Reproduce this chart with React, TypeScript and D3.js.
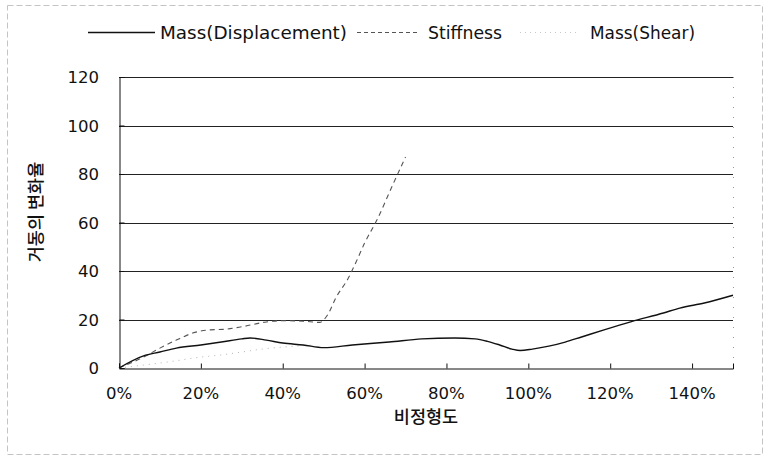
import { useEffect, useRef } from "react";
import * as d3 from "d3";

// values (x = irregularity ratio, y = change rate %)
const dispX = [0, 0.06, 0.1, 0.14, 0.2, 0.25, 0.3, 0.32, 0.36, 0.4, 0.45, 0.5, 0.57, 0.66, 0.74, 0.82, 0.87, 0.9, 0.93, 0.96, 0.98, 1.01, 1.05, 1.09, 1.13, 1.185, 1.25, 1.33, 1.37, 1.43, 1.5];
const dispY = [0, 5, 6.6, 8.2, 9.5, 10.7, 12, 12.4, 11.5, 10.3, 9.5, 8.4, 9.5, 10.7, 12, 12.4, 12, 11, 9.5, 7.8, 7.2, 7.8, 9, 10.7, 12.8, 15.7, 19, 22.7, 24.7, 26.8, 30];

const stiffX = [0, 0.06, 0.1, 0.14, 0.18, 0.22, 0.26, 0.3, 0.36, 0.4, 0.45, 0.49, 0.51, 0.53, 0.56, 0.58, 0.6, 0.63, 0.67, 0.7];
const stiffY = [0, 4.5, 8.2, 11.5, 14.4, 15.7, 16, 17, 19, 19.5, 19.3, 18.8, 22, 29, 37, 44, 51.5, 61, 76, 87];

const shearX = [0, 0.06, 0.12, 0.2, 0.25, 0.3, 0.35, 0.43, 0.47];
const shearY = [0, 1.2, 2.5, 4.5, 5.4, 6.6, 7.8, 9, 9.4];

const xTicks = [0, 0.2, 0.4, 0.6, 0.8, 1.0, 1.2, 1.4];
const yTicks = [0, 20, 40, 60, 80, 100, 120];

const legendItems = [
  { label: "Mass(Displacement)", stroke: "#111", dash: "none", width: 1.4, x0: 88, x1: 155, tx: 160, tl: 187 },
  { label: "Stiffness", stroke: "#555", dash: "4,3", width: 1.1, x0: 357, x1: 420, tx: 428, tl: 74 },
  { label: "Mass(Shear)", stroke: "#c8c8c8", dash: "1,4", width: 1, x0: 520, x1: 580, tx: 590, tl: 105 },
];

const W = 767;
const H = 459;
const font = "'DejaVu Sans', sans-serif";

export default function App() {
  const svgRef = useRef<SVGSVGElement>(null);

  useEffect(() => {
    if (!svgRef.current) return;
    const svg = d3.select(svgRef.current);
    svg.selectAll("*").remove();

    const plot = { left: 119, right: 733, top: 77, bottom: 368 };

    const x = d3.scaleLinear().domain([0, 1.5]).range([plot.left, plot.right]);
    const y = d3.scaleLinear().domain([0, 120]).range([plot.bottom, plot.top]);

    svg.append("rect").attr("width", W).attr("height", H).attr("fill", "#fff");

    // outer chart border (faint, like the scan)
    svg
      .append("rect")
      .attr("x", 7.5)
      .attr("y", 5.5)
      .attr("width", W - 12)
      .attr("height", H - 10)
      .attr("fill", "none")
      .attr("stroke", "#c4c4c4")
      .attr("stroke-dasharray", "6,3")
      .attr("stroke-width", 1);

    // gridlines
    svg
      .append("g")
      .selectAll("line")
      .data(yTicks.filter(d => d > 0))
      .enter()
      .append("line")
      .attr("x1", plot.left)
      .attr("x2", plot.right)
      .attr("y1", d => Math.round(y(d)) + 0.5)
      .attr("y2", d => Math.round(y(d)) + 0.5)
      .attr("stroke", "#222")
      .attr("stroke-width", 1);

    // right border of plot area, faint dotted
    svg
      .append("line")
      .attr("x1", plot.right + 0.5)
      .attr("x2", plot.right + 0.5)
      .attr("y1", plot.top)
      .attr("y2", plot.bottom)
      .attr("stroke", "#999")
      .attr("stroke-dasharray", "1,9");

    // axes
    const xAxis = d3.axisBottom(x).tickValues(xTicks).tickSize(-5).tickFormat(() => "");
    svg
      .append("g")
      .attr("transform", `translate(0,${Math.round(plot.bottom) + 0.5})`)
      .call(xAxis)
      .call(g => g.selectAll(".domain, .tick line").attr("stroke", "#111"));

    const yAxis = d3.axisLeft(y).tickValues(yTicks).tickSize(-5).tickFormat(() => "");
    svg
      .append("g")
      .attr("transform", `translate(${plot.left + 0.5},0)`)
      .call(yAxis)
      .call(g => g.selectAll(".domain, .tick line").attr("stroke", "#111"));

    // tick labels
    svg
      .append("g")
      .selectAll("text")
      .data(xTicks)
      .enter()
      .append("text")
      .attr("x", d => x(d))
      .attr("y", 399)
      .attr("text-anchor", "middle")
      .attr("font-family", font)
      .attr("font-size", 16.5)
      .attr("fill", "#111")
      .text(d => d3.format(".0%")(d));

    svg
      .append("g")
      .selectAll("text")
      .data(yTicks)
      .enter()
      .append("text")
      .attr("x", 99)
      .attr("y", d => y(d) + 6)
      .attr("text-anchor", "end")
      .attr("font-family", font)
      .attr("font-size", 16.5)
      .attr("fill", "#111")
      .text(d => d);

    // axis titles
    svg
      .append("text")
      .attr("x", x(0.75))
      .attr("y", 423)
      .attr("text-anchor", "middle")
      .attr("font-family", "'Noto Sans CJK KR', sans-serif")
      .attr("font-size", 17.5)
      .attr("font-weight", 500)
      .attr("fill", "#111")
      .text("비정형도");

    svg
      .append("text")
      .attr("transform", "translate(42,212) rotate(-90)")
      .attr("text-anchor", "middle")
      .attr("font-family", "'Noto Sans CJK KR', sans-serif")
      .attr("font-size", 17.5)
      .attr("font-weight", 500)
      .attr("fill", "#111")
      .text("거동의 변화율");

    // series
    const line = d3
      .line<[number, number]>()
      .x(d => x(d[0]))
      .y(d => y(d[1]))
      .curve(d3.curveMonotoneX);

    const shear = shearX.map((v, i) => [v, shearY[i]] as [number, number]);
    const stiff = stiffX.map((v, i) => [v, stiffY[i]] as [number, number]);
    const disp = dispX.map((v, i) => [v, dispY[i]] as [number, number]);

    svg
      .append("path")
      .datum(shear)
      .attr("fill", "none")
      .attr("stroke", "#b5b5b5")
      .attr("stroke-width", 1)
      .attr("stroke-dasharray", "1,5")
      .attr("d", line);

    svg
      .append("path")
      .datum(stiff)
      .attr("fill", "none")
      .attr("stroke", "#555")
      .attr("stroke-width", 1.1)
      .attr("stroke-dasharray", "5,4")
      .attr("d", line);

    svg
      .append("path")
      .datum(disp)
      .attr("fill", "none")
      .attr("stroke", "#111")
      .attr("stroke-width", 1.4)
      .attr("d", line);

    // legend
    const legend = svg.append("g");
    legendItems.forEach(item => {
      legend
        .append("line")
        .attr("x1", item.x0)
        .attr("x2", item.x1)
        .attr("y1", 32.5)
        .attr("y2", 32.5)
        .attr("stroke", item.stroke)
        .attr("stroke-width", item.width)
        .attr("stroke-dasharray", item.dash);
      legend
        .append("text")
        .attr("x", item.tx)
        .attr("y", 39)
        .attr("font-family", font)
        .attr("font-size", 17)
        .attr("textLength", item.tl)
        .attr("lengthAdjust", "spacingAndGlyphs")
        .attr("fill", "#111")
        .text(item.label);
    });
  }, []);

  return (
    <div style={{ position: "absolute", left: 0, top: 0 }}>
      <svg ref={svgRef} width={W} height={H} viewBox={`0 0 ${W} ${H}`} style={{ display: "block" }} />
    </div>
  );
}
